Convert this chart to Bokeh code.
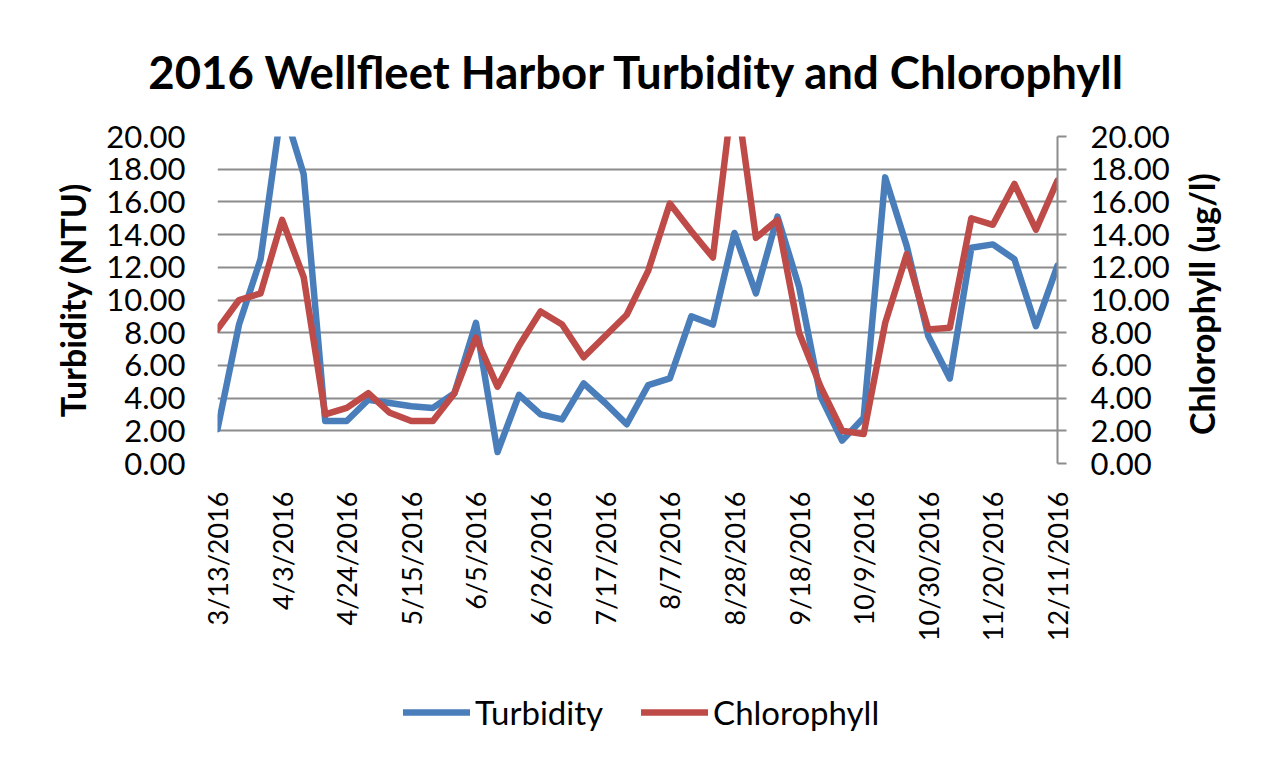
import math
import pandas as pd
from bokeh.plotting import figure
from bokeh.layouts import gridplot
from bokeh.models import (Range1d, LinearAxis, FixedTicker, PrintfTickFormatter,
                          Legend, LegendItem, ColumnDataSource)
from bokeh.embed import file_html
from bokeh.resources import INLINE

# ---- data -------------------------------------------------------------
dates = pd.date_range("2016-03-13", periods=40, freq="7D")
turbidity = [2.1, 8.5, 12.5, 22.0, 17.7, 2.6, 2.6, 3.9, 3.7, 3.5,
             3.4, 4.3, 8.6, 0.7, 4.2, 3.0, 2.7, 4.9, 3.7, 2.4,
             4.8, 5.2, 9.0, 8.5, 14.1, 10.4, 15.1, 10.8, 4.1, 1.4,
             2.8, 17.5, 13.3, 7.8, 5.2, 13.2, 13.4, 12.5, 8.4, 12.1]
chlorophyll = [8.2, 10.0, 10.4, 14.9, 11.4, 3.0, 3.4, 4.3, 3.1, 2.6,
               2.6, 4.3, 7.7, 4.7, 7.2, 9.3, 8.5, 6.5, 7.8, 9.1,
               11.8, 15.9, 14.2, 12.6, 23.4, 13.8, 14.9, 8.0, 4.7, 2.0,
               1.8, 8.6, 12.8, 8.2, 8.3, 15.0, 14.6, 17.1, 14.3, 17.3]
x_tick_labels = ["3/13/2016", "4/3/2016", "4/24/2016", "5/15/2016", "6/5/2016",
                 "6/26/2016", "7/17/2016", "8/7/2016", "8/28/2016", "9/18/2016",
                 "10/9/2016", "10/30/2016", "11/20/2016", "12/11/2016"]
y_ticks = [0, 2, 4, 6, 8, 10, 12, 14, 16, 18, 20]
series_names = ["Turbidity", "Chlorophyll"]

FONT = "Lato"
BLUE = "#4A7EBB"
RED = "#BE4B48"
GRID = "#8C8C8C"
LW = 6.5

src = ColumnDataSource(dict(date=dates, turb=turbidity, chl=chlorophyll))

tick_dates = dates[::3]
tick_ms = [int((d - pd.Timestamp("1970-01-01")) // pd.Timedelta("1ms")) for d in tick_dates]

MAIN_W = 1177
p = figure(width=MAIN_W, height=690, output_backend="svg", toolbar_location=None,
           x_axis_type="datetime",
           x_range=Range1d(dates[0], dates[-1]), y_range=Range1d(0, 20),
           min_border_left=217, min_border_right=MAIN_W - 1057,
           min_border_top=136, min_border_bottom=227)
p.outline_line_color = None
p.background_fill_color = "white"
p.border_fill_color = "white"

p.title.text = "2016 Wellfleet Harbor Turbidity and Chlorophyll"
p.title.align = "center"
p.title.text_font = FONT
p.title.text_font_size = "45.5px"
p.title.text_font_style = "bold"
p.title.text_color = "black"
p.title.standoff = 75

p.extra_y_ranges = {"chl": Range1d(0, 20)}

r1 = p.line("date", "turb", source=src, color=BLUE, line_width=LW,
            line_join="round", line_cap="round")
r2 = p.line("date", "chl", source=src, color=RED, line_width=LW,
            line_join="round", line_cap="round", y_range_name="chl")

# grid
p.xgrid.visible = False
p.ygrid.ticker = FixedTicker(ticks=y_ticks)
p.ygrid.grid_line_color = GRID
p.ygrid.grid_line_width = 2

# x axis
xa = p.xaxis[0]
xa.ticker = FixedTicker(ticks=tick_ms)
xa.major_label_overrides = {t: s for t, s in zip(tick_ms, x_tick_labels)}
xa.major_label_orientation = math.pi / 2
xa.major_label_text_font = FONT
xa.major_label_text_font_size = "27px"
xa.major_label_text_color = "black"
xa.major_label_standoff = 22
xa.axis_line_color = None
xa.major_tick_line_color = None
xa.minor_tick_line_color = None

# left axis
ya = p.yaxis[0]
ya.ticker = FixedTicker(ticks=y_ticks)
ya.formatter = PrintfTickFormatter(format="%.2f")
ya.axis_label = "Turbidity (NTU)"
ya.axis_label_text_font = FONT
ya.axis_label_text_font_size = "34px"
ya.axis_label_text_font_style = "bold"
ya.axis_label_text_color = "black"
ya.axis_label_standoff = 10
ya.major_label_text_font = FONT
ya.major_label_text_font_size = "31px"
ya.major_label_text_color = "black"
ya.major_label_standoff = 26
ya.axis_line_color = None
ya.major_tick_line_color = None
ya.minor_tick_line_color = None

# right axis (ticks + labels)
ra = LinearAxis(y_range_name="chl", ticker=FixedTicker(ticks=y_ticks),
                formatter=PrintfTickFormatter(format="%.2f"))
ra.major_label_text_font = FONT
ra.major_label_text_font_size = "31px"
ra.major_label_text_color = "black"
ra.major_label_standoff = 24
ra.axis_line_color = GRID
ra.axis_line_width = 2
ra.major_tick_line_color = GRID
ra.major_tick_line_width = 2
ra.major_tick_out = 9
ra.major_tick_in = 0
ra.minor_tick_line_color = None
p.add_layout(ra, "right")

# ---- right axis title: narrow figure whose left-axis label reads upward ----
q = figure(width=1267 - MAIN_W, height=690, output_backend="svg", toolbar_location=None,
           x_range=Range1d(0, 1), y_range=Range1d(0, 20),
           min_border_left=40, min_border_right=0,
           min_border_top=136, min_border_bottom=227)
q.xaxis.visible = False
q.grid.visible = False
q.outline_line_color = None
q.border_fill_color = "white"
qa = q.yaxis[0]
qa.ticker = FixedTicker(ticks=[])
qa.axis_line_color = None
qa.major_tick_line_color = None
qa.minor_tick_line_color = None
qa.axis_label = "Chlorophyll  (ug/l)"
qa.axis_label_text_font = FONT
qa.axis_label_text_font_size = "34px"
qa.axis_label_text_font_style = "bold"
qa.axis_label_text_color = "black"
qa.axis_label_standoff = 12

# ---- legend strip (separate small figure, no axes) ----------------------
lg = figure(width=MAIN_W, height=70, output_backend="svg", toolbar_location=None,
            x_range=Range1d(0, 1), y_range=Range1d(0, 1),
            min_border_left=0, min_border_right=0, min_border_top=0, min_border_bottom=0)
lg.axis.visible = False
lg.grid.visible = False
lg.outline_line_color = None
lg.border_fill_color = "white"
lsrc = ColumnDataSource(dict(date=dates, turb=turbidity, chl=chlorophyll))
lr1 = lg.line("date", "turb", source=lsrc, color=BLUE, line_width=LW, line_cap="round")
lr2 = lg.line("date", "chl", source=lsrc, color=RED, line_width=LW, line_cap="round")
legend = Legend(items=[LegendItem(label=series_names[0], renderers=[lr1]),
                       LegendItem(label=series_names[1], renderers=[lr2])],
                orientation="horizontal", location=(186, 28),
                glyph_width=67, glyph_height=24, label_standoff=5, spacing=38,
                label_text_font=FONT, label_text_font_size="33px",
                label_text_color="black", label_height=24,
                border_line_color=None, background_fill_alpha=0,
                margin=0, padding=0)
lg.add_layout(legend, "center")

layout = gridplot([[p, q], [lg, None]], toolbar_location=None)
open("out.html", "w").write(file_html(layout, INLINE))
